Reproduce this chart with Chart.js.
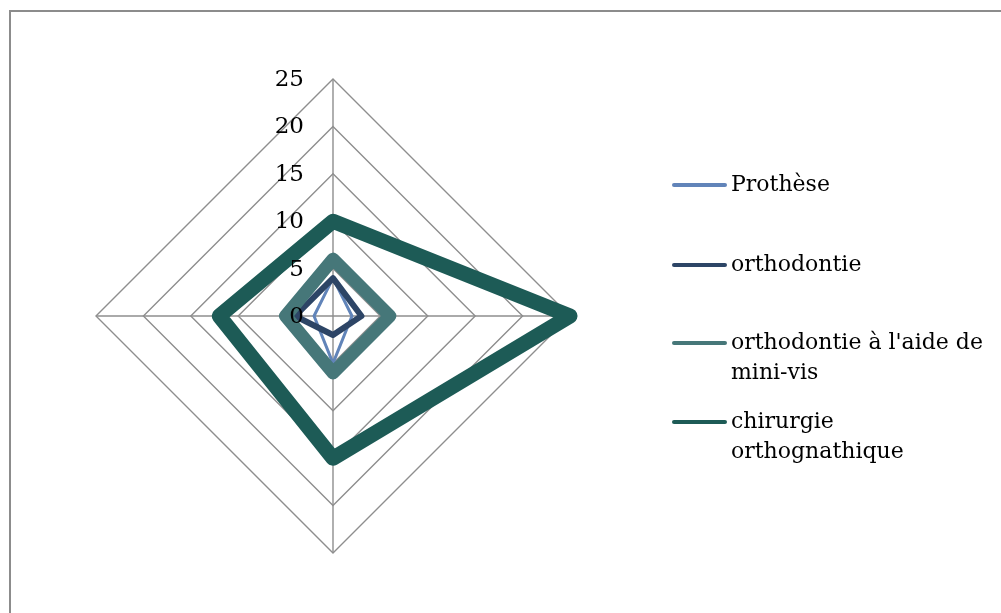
<!DOCTYPE html>
<html>
<head>
<meta charset="utf-8">
<title>Radar</title>
<script src="https://cdn.jsdelivr.net/npm/chart.js@4.4.1/dist/chart.umd.min.js"></script>
<style>
  html, body { margin: 0; padding: 0; background: #fff; }
  #wrap { position: relative; width: 1001px; height: 613px; overflow: hidden; }
  #frame {
    position: absolute; left: 9px; top: 10px; width: 1100px; height: 700px;
    border: 2px solid #8c8c8c; box-sizing: border-box;
  }
  #chart { position: absolute; left: 0; top: 0; }
  .legend-item {
    position: absolute; left: 672px; display: flex; align-items: flex-start;
    font-family: "DejaVu Serif", serif; font-size: 22px; line-height: 30px; color: #000;
  }
  .legend-item .swatch {
    width: 55px; height: 4px; border-radius: 2px; margin-top: 14px; margin-right: 4px; flex: none;
  }
</style>
</head>
<body>
<div id="wrap">
  <div id="frame"></div>
  <canvas id="chart" width="1001" height="613"></canvas>
  <div id="legend"></div>
</div>
<script>
// four unlabeled axes: top, right, bottom, left
const categories = ["", "", "", ""];
const tickValues = [0, 5, 10, 15, 20, 25];

const seriesNames = [
  ["Prothèse"],
  ["orthodontie"],
  ["orthodontie à l'aide de", "mini-vis"],
  ["chirurgie", "orthognathique"]
];
const prothese = [4, 2, 5, 2];
const orthodontie = [4, 3, 2, 4];
const miniVis = [6, 6, 6, 5];
const chirurgie = [10, 25, 15, 12];

const seriesValues = [prothese, orthodontie, miniVis, chirurgie];
const seriesColors = ["#6184b9", "#2d4566", "#467779", "#1d5b56"];
const seriesWidths = [3, 6, 13, 15];

// Excel draws later series on top; chart.js draws lower "order" on top
const datasets = seriesValues.map((vals, i) => ({
  label: seriesNames[i].join(" "),
  data: vals,
  borderColor: seriesColors[i],
  borderWidth: seriesWidths[i],
  borderJoinStyle: "round",
  fill: false,
  pointRadius: 0,
  pointHoverRadius: 0,
  clip: false,
  order: seriesValues.length - 1 - i
}));

const tickLabelPlugin = {
  id: "tickLabels",
  afterDatasetsDraw(chart) {
    const r = chart.scales.r;
    const ctx = chart.ctx;
    ctx.save();
    ctx.font = '23px "DejaVu Serif"';
    ctx.fillStyle = "#000";
    ctx.textAlign = "right";
    ctx.textBaseline = "middle";
    tickValues.forEach((v) => {
      const d = r.getDistanceFromCenterForValue(v);
      ctx.fillText(String(v), r.xCenter - 29, r.yCenter - d + 1);
    });
    ctx.restore();
  }
};

new Chart(document.getElementById("chart").getContext("2d"), {
  type: "radar",
  data: { labels: categories, datasets: datasets },
  options: {
    responsive: false,
    animation: false,
    layout: { padding: { left: 96, top: 79, right: 431, bottom: 60 } },
    elements: { line: { tension: 0 } },
    scales: {
      r: {
        min: 0,
        max: 25,
        ticks: { stepSize: 5, display: false },
        grid: { color: "#8e8e8e", lineWidth: 1.4 },
        angleLines: { color: "#8e8e8e", lineWidth: 1.4 },
        pointLabels: { display: false }
      }
    },
    plugins: {
      legend: { display: false },
      tooltip: { enabled: false }
    }
  },
  plugins: [tickLabelPlugin]
});

// legend on the right, one entry per series
const legendTops = [169, 249, 327, 406];
const legend = document.getElementById("legend");
seriesNames.forEach((lines, i) => {
  const item = document.createElement("div");
  item.className = "legend-item";
  item.style.top = legendTops[i] + "px";
  const sw = document.createElement("div");
  sw.className = "swatch";
  sw.style.background = seriesColors[i];
  const txt = document.createElement("div");
  lines.forEach((line, j) => {
    if (j > 0) txt.appendChild(document.createElement("br"));
    txt.appendChild(document.createTextNode(line));
  });
  item.appendChild(sw);
  item.appendChild(txt);
  legend.appendChild(item);
});
</script>
</body>
</html>
